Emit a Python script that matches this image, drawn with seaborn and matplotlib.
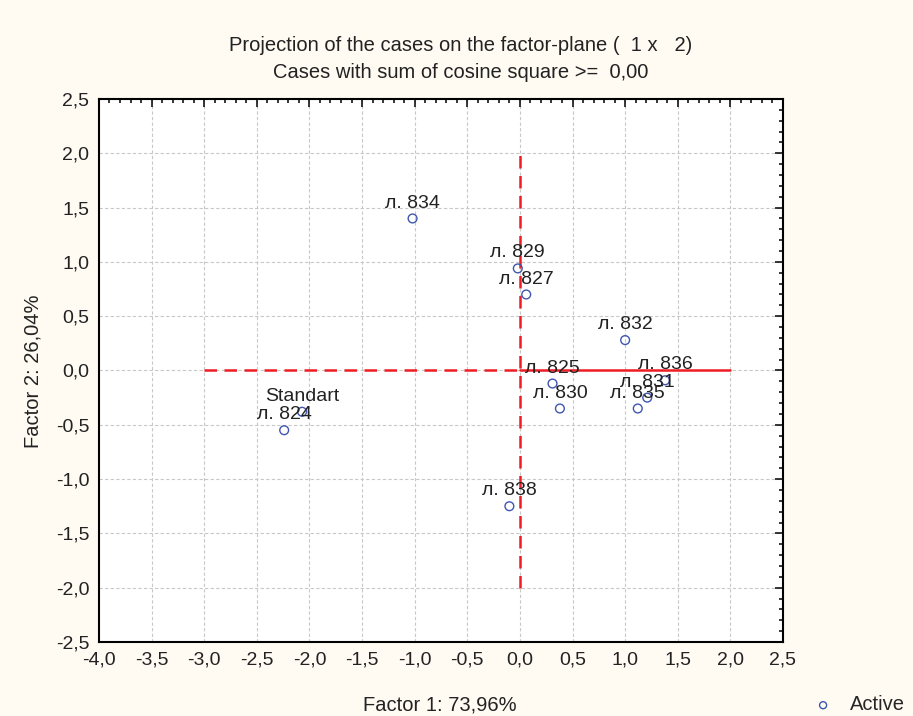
import matplotlib
matplotlib.use("Agg")
import matplotlib.pyplot as plt
import numpy as np
import pandas as pd
import seaborn as sns
from matplotlib.ticker import FixedLocator, MultipleLocator

# case coordinates on the factor plane
case_labels = ["л. 834", "л. 829", "л. 827", "л. 832", "л. 825", "л. 830",
               "л. 835", "л. 831", "л. 836", "Standart", "л. 824", "л. 838"]
factor1 = [-1.02, -0.02, 0.06, 1.00, 0.31, 0.38, 1.12, 1.21, 1.38, -2.07, -2.24, -0.10]
factor2 = [1.40, 0.94, 0.70, 0.28, -0.12, -0.35, -0.35, -0.25, -0.09, -0.38, -0.55, -1.25]

x_ticks = [-4.0, -3.5, -3.0, -2.5, -2.0, -1.5, -1.0, -0.5, 0.0, 0.5, 1.0, 1.5, 2.0, 2.5]
y_ticks = [-2.5, -2.0, -1.5, -1.0, -0.5, 0.0, 0.5, 1.0, 1.5, 2.0, 2.5]

# reference cross
h_span = (-3.0, 2.0)
v_span = (-2.0, 2.0)

title_1 = "Projection of the cases on the factor-plane (  1 x   2)"
title_2 = "Cases with sum of cosine square >=  0,00"
x_label = "Factor 1: 73,96%"
y_label = "Factor 2: 26,04%"

sns.set_theme(style="white")
plt.rcParams["font.family"] = ["Liberation Sans", "DejaVu Sans"]

bg = "#fffbf3"
dot_color = "#3f56b0"
text_color = "#222222"

df = pd.DataFrame({"f1": factor1, "f2": factor2, "case": case_labels})

fig = plt.figure(figsize=(9.13, 7.16), dpi=100, facecolor=bg)
ax = fig.add_axes([0.1084, 0.1034, 0.7492, 0.7583])
ax.set_facecolor("white")

ax.set_xlim(x_ticks[0], x_ticks[-1])
ax.set_ylim(y_ticks[0], y_ticks[-1])

# grid
for t in x_ticks[1:-1]:
    ax.axvline(t, color="#c8c8c8", lw=0.8, ls=(0, (3, 2)), zorder=0)
for t in y_ticks[1:-1]:
    ax.axhline(t, color="#c8c8c8", lw=0.8, ls=(0, (3, 2)), zorder=0)

# red cross: dashed left part, solid right part, dashed vertical
ax.plot([h_span[0], 0.0], [0.0, 0.0], color="#ee1c24", lw=1.8, ls=(0, (5, 3)), zorder=1)
ax.plot([0.0, h_span[1]], [0.0, 0.0], color="#ee1c24", lw=1.8, zorder=1)
ax.plot([0.0, 0.0], list(v_span), color="#ee1c24", lw=1.8, ls=(0, (5, 3)), zorder=1)

sns.scatterplot(data=df, x="f1", y="f2", ax=ax, marker="o", s=40,
                facecolors="none", edgecolor=dot_color, linewidth=1.0,
                label="Active", zorder=3, legend=False)

for _, row in df.iterrows():
    ax.annotate(row["case"], (row["f1"], row["f2"]), xytext=(0, 5),
                textcoords="offset points", ha="center", va="bottom",
                fontsize=14, color=text_color, zorder=4)

ax.xaxis.set_major_locator(FixedLocator(x_ticks))
ax.yaxis.set_major_locator(FixedLocator(y_ticks))
ax.xaxis.set_minor_locator(MultipleLocator(0.1))
ax.yaxis.set_minor_locator(MultipleLocator(0.1))
ax.set_xticklabels([f"{v:.1f}".replace(".", ",") for v in x_ticks])
ax.set_yticklabels([f"{v:.1f}".replace(".", ",") for v in y_ticks])
ax.tick_params(which="both", direction="in", top=True, right=True,
               color="black", width=1.1)
ax.tick_params(which="major", length=6, labelsize=14, labelcolor=text_color, pad=7)
ax.tick_params(which="minor", length=3)
for sp in ax.spines.values():
    sp.set_visible(True)
    sp.set_color("black")
    sp.set_linewidth(1.5)

ax.set_xlabel("")
ax.set_ylabel("")
fig.text(0.482, 0.0154, x_label, ha="center", va="center", fontsize=14.5, color=text_color)
fig.text(0.036, 0.482, y_label, ha="center", va="center", rotation=90,
         fontsize=14.5, color=text_color)

fig.text(0.504, 0.937, title_1, ha="center", va="center", fontsize=14.5,
         color=text_color)
fig.text(0.505, 0.899, title_2, ha="center", va="center", fontsize=14.5,
         color=text_color)

# legend
fig.legend(handles=ax.collections[:1], labels=["Active"], loc="center left",
           bbox_to_anchor=(0.8905, 0.0154), frameon=False, fontsize=14.5,
           handletextpad=0.85, handlelength=1.0, markerscale=0.8, borderaxespad=0,
           borderpad=0)
fig.legends[0].set_bbox_to_anchor((0.8905, 0.0154), transform=fig.transFigure)

fig.savefig("out.png", dpi=100, facecolor=bg)
